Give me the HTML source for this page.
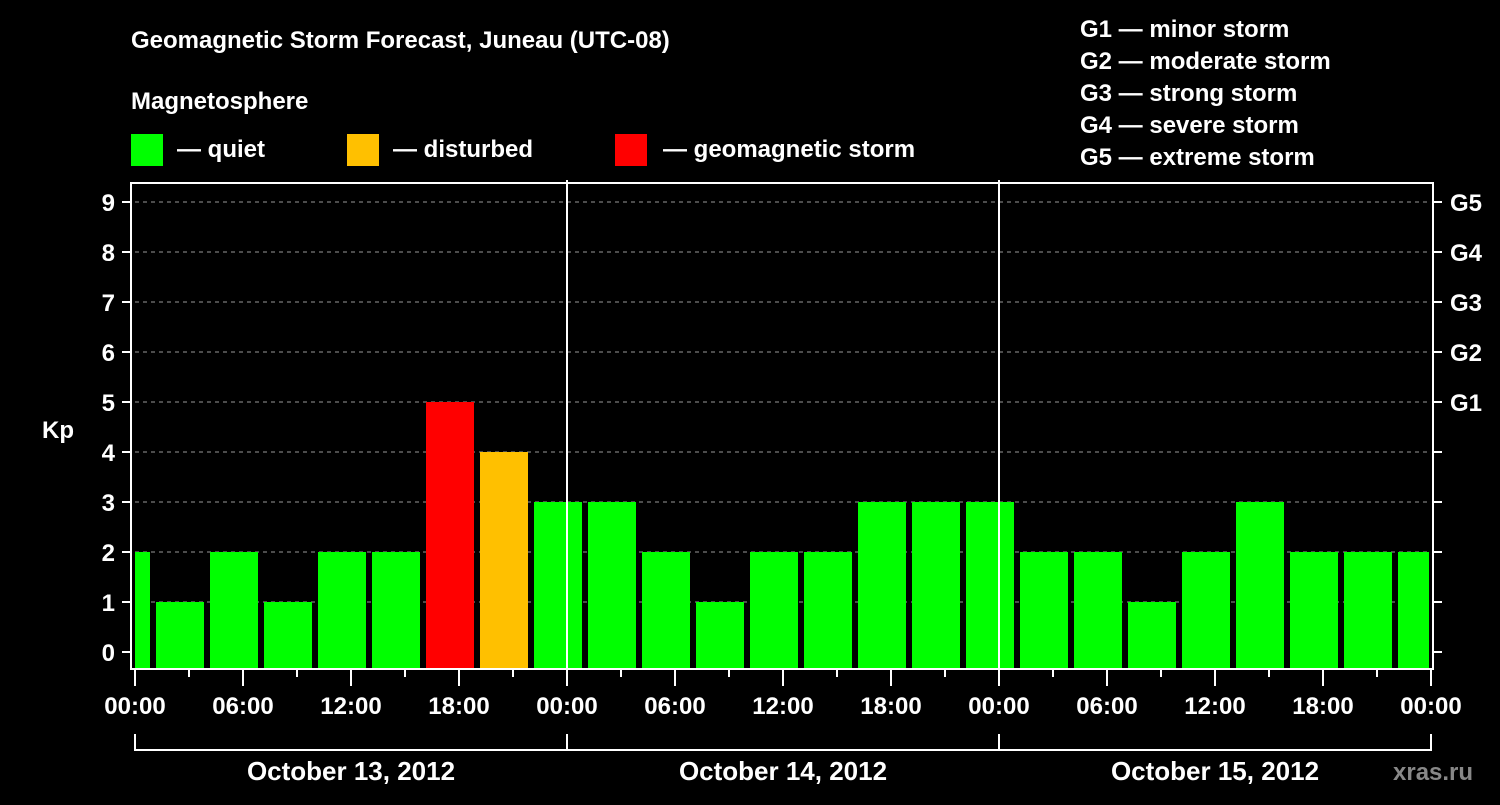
<!DOCTYPE html>
<html><head><meta charset="utf-8"><style>
body{margin:0;background:#000;width:1500px;height:800px;overflow:hidden}
svg text{font-family:"Liberation Sans",Arial,sans-serif;font-weight:bold;fill:#fff}
</style></head><body>
<svg id="chart" width="1500" height="800" xmlns="http://www.w3.org/2000/svg">
<text x="131" y="48" font-size="24">Geomagnetic Storm Forecast, Juneau (UTC-08)</text>
<text x="131" y="109" font-size="24">Magnetosphere</text>
<g>
<rect x="131" y="134" width="32" height="32" fill="#00ff00"/>
<text x="177" y="157" font-size="24">— quiet</text>
<rect x="347" y="134" width="32" height="32" fill="#ffc000"/>
<text x="393" y="157" font-size="24">— disturbed</text>
<rect x="615" y="134" width="32" height="32" fill="#ff0000"/>
<text x="663" y="157" font-size="24">— geomagnetic storm</text>
</g>
<g font-size="24">
<text x="1080" y="37">G1 — minor storm</text>
<text x="1080" y="69">G2 — moderate storm</text>
<text x="1080" y="101">G3 — strong storm</text>
<text x="1080" y="133">G4 — severe storm</text>
<text x="1080" y="165">G5 — extreme storm</text>
</g>
<text x="42" y="438" font-size="24">Kp</text>
<text x="1393" y="780" font-size="24" style="fill:#888">xras.ru</text>
<g id="grid"></g><g id="bars"></g><g id="axes"></g>
</svg>
<script>
const kpValues=[2,1,2,1,2,2,5,4,3,3,2,1,2,2,3,3,3,2,2,1,2,3,2,2,2];
const slotStartHours=[-2,1,4,7,10,13,16,19,22,25,28,31,34,37,40,43,46,49,52,55,58,61,64,67,70];
const yTicks=[0,1,2,3,4,5,6,7,8,9];
const gLabels=["G1","G2","G3","G4","G5"];
const gLevels=[5,6,7,8,9];
const xTickLabels=["00:00","06:00","12:00","18:00","00:00","06:00","12:00","18:00","00:00","06:00","12:00","18:00","00:00"];
const dayLabels=["October 13, 2012","October 14, 2012","October 15, 2012"];
const NS="http://www.w3.org/2000/svg";
const X0=135,PXH=18,Y0=652,PXK=50,TOP=183,BOT=668,RIGHT=1431;
const xs=h=>X0+h*PXH, ys=k=>Y0-k*PXK;
function mk(t,a,p){const e=document.createElementNS(NS,t);for(const k in a)e.setAttribute(k,a[k]);p.appendChild(e);return e;}
const grid=document.getElementById('grid'),bars=document.getElementById('bars'),axes=document.getElementById('axes');
yTicks.forEach(k=>{if(k>0){const l=mk('line',{x1:X0,x2:RIGHT,y1:ys(k),y2:ys(k),stroke:'#999','stroke-dasharray':'4,4','stroke-width':1},grid);

}
mk('line',{x1:122,x2:131,y1:ys(k),y2:ys(k),stroke:'#fff','stroke-width':2},axes);
mk('line',{x1:1433,x2:1442,y1:ys(k),y2:ys(k),stroke:'#fff','stroke-width':2},axes);
const t=mk('text',{x:115,y:ys(k)+9,'font-size':24,'text-anchor':'end'},axes);t.textContent=k;

});
gLevels.forEach((k,i)=>{const t=mk('text',{x:1450,y:ys(k)+9,'font-size':24},axes);t.textContent=gLabels[i];

});
kpValues.forEach((v,i)=>{let a=xs(slotStartHours[i])+3,b=xs(slotStartHours[i]+3)-3;a=Math.max(a,X0);b=Math.min(b,RIGHT-2);
const c=v>=5?'#ff0000':(v>=4?'#ffc000':'#00ff00');
const r=mk('rect',{x:a,y:ys(v),width:b-a,height:BOT-ys(v),fill:c},bars);

});
[24,48].forEach(h=>mk('line',{x1:xs(h),x2:xs(h),y1:180,y2:BOT,stroke:'#fff','stroke-width':2},axes));
mk('rect',{x:131,y:TOP,width:RIGHT+2-131,height:BOT+1-TOP,fill:'none',stroke:'#fff','stroke-width':2},axes);
for(let h=0;h<=72;h+=3){mk('line',{x1:xs(h),x2:xs(h),y1:670,y2:h%6==0?686:677,stroke:'#fff','stroke-width':2},axes);}
xTickLabels.forEach((s,i)=>{const t=mk('text',{x:xs(i*6),y:714,'font-size':24,'text-anchor':'middle'},axes);t.textContent=s;

});
dayLabels.forEach((s,i)=>{const a=xs(i*24),b=xs(i*24+24);
mk('path',{d:`M${a} 734V750H${b}V734`,fill:'none',stroke:'#fff','stroke-width':2},axes);
const t=mk('text',{x:(a+b)/2,y:780,'font-size':26,'text-anchor':'middle'},axes);t.textContent=s;

});
</script>
</body></html>
